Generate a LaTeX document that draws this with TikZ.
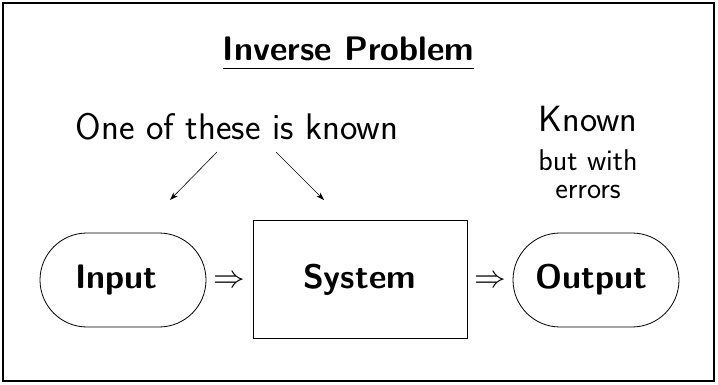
\documentclass[tikz,border=0pt]{standalone}
\usetikzlibrary{arrows.meta}
\begin{document}
\begin{tikzpicture}[x=1pt,y=-1pt,
  every node/.style={inner sep=0pt, font=\sffamily},
  headfont/.style={anchor=base, font=\sffamily\bfseries\fontsize{34}{34}\selectfont},
  pill/.style={draw, line width=0.8pt, minimum width=166pt, minimum height=94pt, rounded corners=47pt},
  sysbox/.style={draw, line width=0.8pt, minimum width=214pt, minimum height=118pt},
  pointer/.style={-{Stealth[length=8pt,width=5.5pt]}, line width=0.6pt},
  implies/.style={scale=1.27, font=\fontsize{24.88}{24.88}\selectfont}]
\useasboundingbox (0,0) rectangle (718,385);
\draw[line width=1.4pt] (3,3) rectangle (714,381);
% heading, underlined by a drawn rule
\node[anchor=base, font=\sffamily\bfseries\fontsize{34}{34}\selectfont] (title) at (348.5,61) {Inverse Problem};
\draw[line width=1.5pt] ([yshift=-7.5pt]title.base west) -- ([yshift=-7.5pt]title.base east);
% annotations
\node[font=\sffamily\fontsize{37}{37}\selectfont] (known1) at (237,127) {One of these is known};
\node[font=\sffamily\fontsize{36.5}{36.5}\selectfont] (known2) at (588,119) {Known};
\node[font=\sffamily\fontsize{30}{28}\selectfont, align=center] (errs) at (588,174) {but with\\errors};
% blocks
\node[pill] (in) at (123,280) {};
\node[headfont] (inl) at (116.5,288) {Input};
\node[sysbox] (sys) at (360,279) {};
\node[headfont] (sysl) at (359.5,288) {System};
\node[pill] (out) at (596,280) {};
\node[headfont] (outl) at (591.5,288) {Output};
\node[implies] (i1) at (229.5,282) {$\Rightarrow$};
\node[implies] (i2) at (490,282) {$\Rightarrow$};
% pointers
\coordinate (a1) at (217,152);
\coordinate (b1) at (170,200);
\coordinate (a2) at (276,152);
\coordinate (b2) at (324,200);
\draw[pointer] (a1) -- (b1);
\draw[pointer] (a2) -- (b2);
\end{tikzpicture}
\end{document}
